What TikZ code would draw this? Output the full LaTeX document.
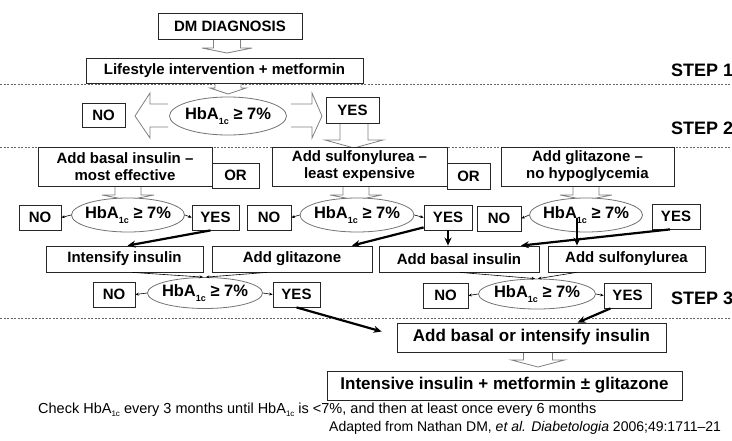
\documentclass[tikz,border=0pt]{standalone}
\usepackage{fontspec}
\setmainfont{Liberation Sans}
\usetikzlibrary{arrows.meta,calc,shapes.geometric}
\newcommand\hbsub[1]{\raisebox{-0.5ex}{\fontsize{9}{9}\selectfont #1}}
\newcommand\hbsubf[1]{\raisebox{-0.45ex}{\fontsize{8}{8}\selectfont #1}}
\newcommand\hba{HbA\hbsub{1c} ≥ 7\%}
% cx, top, headbase, tip, stemhalf, headhalf
\newcommand\hollowdown[6]{%
  \draw[hollow] (#1-#5,#2) -- (#1-#5,#3) -- (#1-#6,#3) -- (#1,#4) -- (#1+#6,#3) -- (#1+#5,#3) -- (#1+#5,#2);}
\begin{document}
\begin{tikzpicture}[x=1pt,y=-1pt,
  box/.style={draw=black!85, line width=0.8pt, fill=white, inner sep=0pt, align=center,
    font=\bfseries\fontsize{15}{17}\selectfont},
  bigbox/.style={box, font=\bfseries\fontsize{17}{19}\selectfont},
  test/.style={ellipse, draw=black!55, line width=0.8pt, fill=white, inner sep=0pt},
  tfont/.style={font=\bfseries\fontsize{16.5}{18}\selectfont},
  sz/.style 2 args={minimum width=#1pt, minimum height=#2pt},
  hollow/.style={draw=black!50, line width=0.8pt, fill=white},
  dline/.style={draw=black!60, line width=0.6pt, dash pattern=on 2pt off 1.5pt},
  steplbl/.style={anchor=west, inner sep=0pt, font=\bfseries\fontsize{18}{20}\selectfont},
  thk/.style={draw=black, line width=2.2pt, -{Stealth[length=8pt,width=7pt]}},
  thn/.style={draw=black, line width=0.6pt, -{Stealth[length=3.5pt,width=3pt]}},
  foot/.style={anchor=west, inner sep=0pt, font=\fontsize{14.5}{16}\selectfont}]
\useasboundingbox[fill=white] (0,0) rectangle (732,440);

% dashed step separators
\draw[dline] (0,84) -- (732,84);
\draw[dline] (0,147) -- (732,147);
\draw[dline] (0,318) -- (732,318);

% step labels
\node[steplbl] (st1) at (671,70) {STEP 1};
\node[steplbl] (st2) at (671,128) {STEP 2};
\node[steplbl] (st3) at (671,298) {STEP 3};

% hollow arrows
\hollowdown{227}{39}{48}{53}{13.5}{25}
\hollowdown{228}{83}{88}{94}{13}{18}
\hollowdown{354}{123}{140}{148}{14}{29}
\hollowdown{128}{186}{195}{200}{13}{26}
\hollowdown{356}{186}{195}{200}{13}{26}
\hollowdown{586}{186}{195}{200}{13}{26}
\hollowdown{538}{352}{360}{367}{14.5}{26.5}
\draw[hollow] (168,104) -- (150,104) -- (150,93) -- (135,116) -- (150,138) -- (150,127) -- (168,127);
\draw[hollow] (291,104) -- (312,104) -- (312,93) -- (322,116) -- (312,138) -- (312,127) -- (291,127);

% step 1
\node[box, sz={144}{26}] (dm) at (230,26) {DM DIAGNOSIS};
\node[box, sz={277}{25}] (life) at (224.5,70.5) {Lifestyle intervention + metformin};
\node[test, sz={117}{38}, label={[tfont]center:\hba}] (e1) at (228,116) {};
\node[box, sz={43}{24}] (no1) at (103.5,115) {NO};
\node[box, sz={53}{26}] (yes1) at (352.5,110) {YES};

% step 2 options
\node[box, sz={174}{39}] (boxA) at (125,166.5) {Add basal insulin –\\most effective};
\node[box, sz={47}{25}] (or1) at (235.5,175.5) {OR};
\node[box, sz={175}{39}] (boxB) at (359.5,166.5) {Add sulfonylurea –\\least expensive};
\node[box, sz={43}{26}] (or2) at (468.5,176) {OR};
\node[box, sz={173}{39}] (boxC) at (587.5,166.5) {Add glitazone –\\no hypoglycemia};

% second tests
\node[test, sz={113}{34}, label={[tfont]center:\hba}] (eA) at (128,215) {};
\node[box, sz={42}{25}] (noA) at (40,217.5) {NO};
\node[box, sz={47}{25}] (yesA) at (215.5,217.5) {YES};
\node[test, sz={114}{34}, label={[tfont]center:\hba}] (eB) at (357,215) {};
\node[box, sz={44}{25}] (noB) at (269,217.5) {NO};
\node[box, sz={48}{25}] (yesB) at (448,217.5) {YES};
\node[test, sz={113}{34}] (eC) at (586,215) {};
\node[box, sz={44}{25}] (noC) at (499,218.5) {NO};
\node[box, sz={48}{25}] (yesC) at (676,216.5) {YES};

% third-level boxes
\node[box, sz={157}{26}] (ins) at (124.5,259) {Intensify insulin};
\node[box, sz={160}{26}] (gli) at (292,259) {Add glitazone};
\node[box, sz={160}{26}] (bas) at (459,259) {Add basal insulin};
\node[box, sz={157}{26}] (sul) at (626.5,259) {Add sulfonylurea};

% third tests
\node[test, sz={115}{31}, label={[tfont]center:\hba}] (eD) at (205,293) {};
\node[box, sz={42}{25}] (noD) at (114,294.5) {NO};
\node[box, sz={47}{25}] (yesD) at (296.5,294.5) {YES};
\node[test, sz={117}{30}, label={[tfont]center:\hba}] (eE) at (537,294) {};
\node[box, sz={45}{25}] (noE) at (445.5,295.5) {NO};
\node[box, sz={47}{25}] (yesE) at (627.5,295.5) {YES};

% step 3
\node[bigbox, sz={269}{29}] (s3) at (531.5,337.5) {Add basal or intensify insulin};
\node[bigbox, sz={355}{29}] (fin) at (504.5,385.5) {Intensive insulin + metformin ± glitazone};

% thin arrows to NO / YES
\draw[thn] (eA.west) -- (noA.east);
\draw[thn] (eA.east) -- (yesA.west);
\draw[thn] (eB.west) -- (noB.east);
\draw[thn] (eB.east) -- (yesB.west);
\draw[thn] (eC.west) -- (noC.east);
\draw[thn] (eD.west) -- (noD.east);
\draw[thn] (eD.east) -- (yesD.west);
\draw[thn] (eE.west) -- (noE.east);
\draw[thn] (eE.east) -- (yesE.west);

% converging thin arrows
\draw[thn] ([xshift=8pt]ins.south) -- ([xshift=-2pt]eD.north);
\draw[thn] ([xshift=-25pt]gli.south) -- ([xshift=1pt]eD.north);
\draw[thn] ([xshift=1pt]bas.south) -- ([xshift=-2pt]eE.north);
\draw[thn] ([xshift=-50pt]sul.south) -- ([xshift=1pt]eE.north);

% thick arrows
\draw[thk] ([xshift=-5pt]yesA.south) -- ([xshift=3pt]ins.north);
\draw[thk] ([yshift=3pt]yesB.south west) -- ([xshift=60pt]gli.north);
\draw[thk] (yesB.south) -- (yesB.south |- bas.north);
\draw[thk] ([xshift=-6pt]yesC.south) -- ([xshift=62pt]bas.north);
\draw[thk] ([xshift=-9pt,yshift=-3pt]eC.center) -- ([xshift=-9pt]eC.center |- sul.north);
\draw[thk] (yesD.south) -- ([xshift=-15pt,yshift=6pt]s3.west);
\draw[thk] ([xshift=-17pt]yesE.south) -- ([xshift=46pt]s3.north);

% text of test C drawn above its arrow
\node[tfont, inner sep=0pt] (eCt) at (eC.center) {\hba};

% footnotes
\node[foot] (fn1) at (38,410) {Check HbA\hbsubf{1c} every 3 months until HbA\hbsubf{1c} is <7\%, and then at least once every 6 months};
\node[foot, font=\fontsize{14}{16}\selectfont] (fn2) at (329,428) {Adapted from Nathan DM, \textit{et al. Diabetologia} 2006;49:1711–21};
\end{tikzpicture}
\end{document}
